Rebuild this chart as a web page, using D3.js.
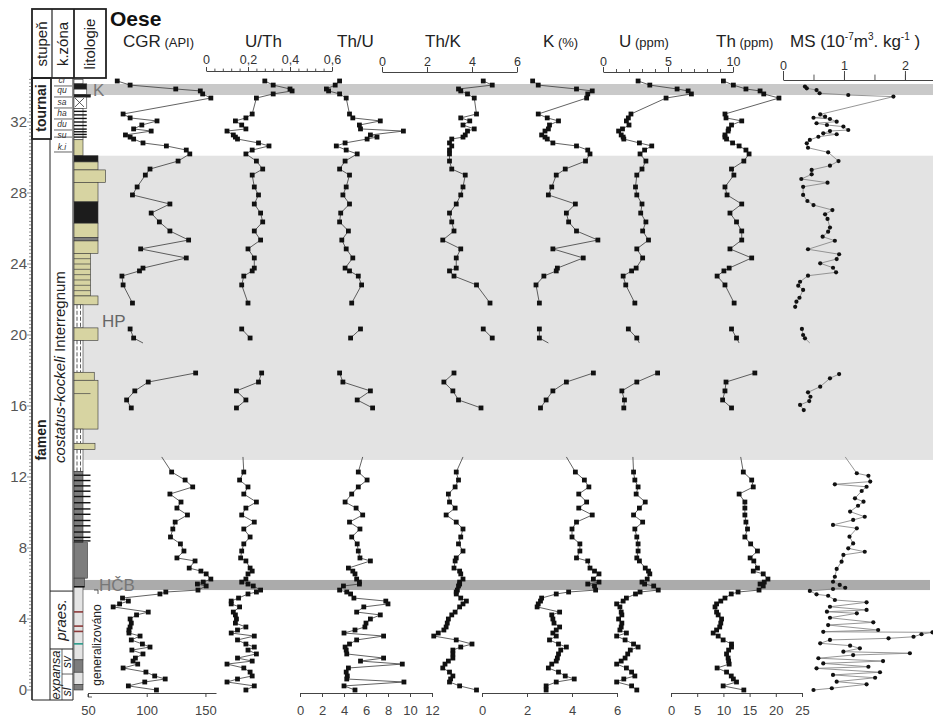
<!DOCTYPE html>
<html><head><meta charset="utf-8">
<script src="https://cdn.jsdelivr.net/npm/d3@7"></script>
<style>body{margin:0;background:#fff} text{font-family:"Liberation Sans",Arial,sans-serif}</style>
</head><body><svg id="c" width="933" height="720"></svg>
<script>
// ---------- DATA ----------
const depthA = [34.31,34.08,33.86,33.75,33.58,33.35,32.45,32.23,32.06,31.83,31.61,31.49,31.27,31.15,31.04,30.82,30.65,30.42,30.20,29.80,29.35,29.01,28.34,27.89,27.38,26.87,26.37,25.86,25.35,24.85,24.34,23.77,23.61,23.32,22.82,21.80];
const depthHP = [20.34,19.83];
const depthC = [17.86,17.35,16.85,16.34,15.89];
const depthLow = [12.28,11.83,11.44,11.04,10.59,10.25,9.86,9.46,9.07,8.62,8.23,7.83,7.44,7.27,6.87,6.70,6.54,6.25,6.08,5.97,5.86,5.63,5.52,5.41,5.18,5.01,4.85,4.68,4.39,4.23,4.00,3.77,3.55,3.38,3.21,3.04,2.82,2.59,2.42,2.25,2.03,1.80,1.63,1.46,1.24,1.01,0.79,0.62,0.45,0.23,0.00];
const stubLowDepth = 13.13, stubHPDepth = 19.55;

const cgrA = [75,86,125,146,148,155,80,86,109,96,89,104,82,86,89,97,117,134,137,127,103,99,92,88,120,104,111,120,136,95,134,97,94,79,80,88];
const cgrHP = [86,89];
const cgrC = [142,101.5,90,83,87];
const cgrLow = [121.5,133,139.5,120,129.5,126,135,124.5,122.5,120.5,129,132,126,141.5,136.5,146.5,151,155,148.5,143.5,151,144,116.5,111.5,79.5,84.5,77,71.5,101.5,91.5,86,87,86,85,85,94.5,87,96.5,103,87.5,97,90.5,88.5,92.5,80,99.5,107,116,98.5,84.5,108.5];

const uthA = [0.28,0.32,0.40,0.41,0.32,0.24,0.22,0.19,0.14,0.17,0.19,0.10,0.13,0.14,0.15,0.25,0.30,0.22,0.19,0.24,0.27,0.22,0.23,0.25,0.23,0.26,0.27,0.23,0.26,0.20,0.23,0.23,0.22,0.18,0.17,0.20];
const uthHP = [0.17,0.21];
const uthC = [0.265,0.25,0.145,0.19,0.145];
const uthLow = [0.18,0.16,0.2,0.18,0.24,0.19,0.17,0.23,0.18,0.21,0.18,0.17,0.165,0.19,0.21,0.22,0.2,0.19,0.17,0.2,0.225,0.26,0.24,0.2,0.155,0.12,0.12,0.16,0.13,0.14,0.145,0.14,0.19,0.15,0.12,0.23,0.15,0.19,0.23,0.2,0.24,0.15,0.22,0.1,0.18,0.21,0.22,0.15,0.1,0.23,0.19];

const thuA = [3.6,3.2,2.4,2.6,3.6,4.2,4.5,4.8,7.3,5.4,5.5,9.4,6.4,7.0,6.1,4.1,3.3,4.2,5.2,4.1,3.6,4.5,4.2,3.9,4.5,3.7,3.6,4.4,3.8,4.2,4.8,4.1,4.5,5.3,5.6,4.7];
const thuHP = [5.5,4.6];
const thuC = [3.6,3.9,6.4,5.2,6.6];
const thuLow = [5.3,6.1,5.3,4.7,4.1,5.1,5.7,4.5,5.45,4.7,5.2,5.3,5.45,6.4,4.4,4.8,5.0,5.15,5.4,5.4,3.95,3.6,4.25,4.6,4.9,7.8,8.0,5.8,5.15,7.3,6.4,6.0,5.9,5.0,4.0,7.6,5.15,4.5,4.1,4.2,4.25,7.6,5.5,9.3,4.4,4.2,4.3,4.25,9.45,4.0,5.0];

const thkA = [4.5,4.9,3.4,3.5,3.8,4.1,4.2,3.5,3.9,3.6,4.1,3.8,3.7,3.6,3.1,3.0,3.1,3.0,3.0,3.0,3.1,3.7,3.6,3.5,3.3,3.0,3.1,3.2,2.7,3.5,3.3,3.3,3.0,3.2,4.2,4.8];
const thkHP = [4.5,4.9];
const thkC = [3.2,2.75,3.15,3.4,4.4];
const thkLow = [3.3,3.4,3.25,2.95,3.0,3.25,2.85,3.3,3.6,3.5,3.4,3.6,3.3,3.25,3.2,3.45,3.5,3.6,3.45,3.45,3.4,3.35,3.3,3.3,3.5,3.75,3.6,3.45,3.25,3.1,2.95,2.9,2.85,2.75,2.5,2.3,3.3,4.0,3.5,3.15,3.15,3.15,2.95,2.8,2.7,3.0,3.15,3.05,3.0,3.45,4.2];

const kA = [2.25,2.5,4.2,4.9,4.7,4.65,2.5,2.9,3.4,3.0,2.95,2.8,2.65,2.8,2.9,3.15,4.2,4.7,4.8,4.6,3.7,3.3,3.1,2.95,4.15,3.75,3.85,4.2,5.15,3.15,4.5,3.35,3.3,2.75,2.4,2.55];
const kHP = [2.55,2.55];
const kC = [4.95,3.75,3.15,2.85,2.6];
const kLow = [4.15,4.55,4.75,4.3,4.65,4.3,4.9,4.2,4.0,4.0,4.35,4.35,4.2,4.7,4.8,5.0,5.2,4.95,5.2,4.7,5.0,5.05,3.85,3.3,2.65,2.6,2.5,2.45,3.45,3.1,3.15,3.2,3.45,3.3,3.15,3.3,3.0,3.4,3.75,3.5,3.4,3.35,3.3,3.1,2.95,3.4,3.7,4.1,3.3,2.85,2.85];

const uA = [2.7,3.6,5.7,6.55,6.8,4.85,2.15,1.95,1.8,2.0,1.5,1.2,1.4,1.55,1.6,2.8,3.75,3.2,2.85,3.3,3.0,2.6,2.5,2.6,3.0,2.9,3.3,3.05,3.5,2.6,3.05,2.55,2.2,1.55,1.75,2.45];
const uHP = [1.95,2.6];
const uC = [4.2,2.6,1.45,1.65,1.6];
const uLow = [2.35,2.45,2.7,2.55,3.25,2.8,2.35,3.05,2.45,2.6,2.7,2.7,2.6,2.8,3.25,3.5,3.6,3.4,3.0,3.2,3.9,4.25,2.85,2.5,1.8,1.55,1.05,1.3,1.4,1.45,1.2,1.45,1.4,1.3,1.8,1.05,1.7,2.35,2.7,2.1,1.9,1.7,1.4,1.05,1.8,2.2,2.45,1.6,1.05,2.2,2.6];

const thA = [10.0,11.9,14.3,17.0,17.7,20.6,10.3,10.5,13.5,11.55,11.0,10.9,10.3,10.3,10.6,11.75,13.0,14.3,14.9,13.9,11.55,12.0,10.3,10.7,13.5,11.25,12.5,13.5,13.5,11.25,15.4,11.1,10.1,8.8,10.3,12.05];
const thHP = [11.55,12.5];
const thC = [16.0,10.5,10.3,9.85,11.55];
const thLow = [13.8,15.4,15.7,13.0,14.1,14.1,14.1,14.3,14.6,14.1,15.2,16.5,15.1,15.8,16.5,15.7,17.6,18.5,17.8,17.0,17.6,16.8,12.8,11.5,10.3,9.5,8.7,8.4,8.7,9.0,9.65,9.5,9.3,8.7,8.05,9.0,9.95,11.55,11.55,11.0,10.6,10.9,11.0,11.1,8.8,10.6,11.5,11.9,12.5,9.95,13.9];

const msDepthA = [34.0,33.9,33.8,33.62,33.52,33.43,32.43,32.3,32.24,32.17,32.02,31.93,31.83,31.74,31.55,31.49,31.36,31.31,31.17,30.99,30.8,30.55,30.29,29.8,29.54,29.3,29.05,28.79,28.58,28.35,27.89,27.55,27.32,27.04,26.8,26.54,26.05,25.82,25.54,25.31,24.83,24.55,24.28,24.04,23.79,23.53,23.34,23.0,22.78,22.54,22.1,21.88,21.59];
const msA = [0.36,0.39,0.55,0.6,1.07,1.81,0.61,0.69,0.5,0.77,0.88,0.55,0.72,0.99,1.07,0.77,0.66,0.88,0.58,0.44,0.39,0.41,0.74,0.91,0.77,0.47,0.47,0.3,0.73,0.33,0.33,0.4,0.5,0.81,0.69,0.73,0.77,0.74,0.65,0.85,0.41,0.92,0.88,0.61,0.82,0.87,0.41,0.28,0.25,0.33,0.27,0.22,0.2];
const msDepthHP = [20.34,20.0,19.81];
const msHP = [0.31,0.33,0.36];
const msDepthC = [17.8,17.56,17.09,16.77,16.52,16.28,16.06,15.77];
const msC = [0.92,0.77,0.61,0.41,0.45,0.43,0.28,0.34];
const msDepthLow = [12.21,12.07,11.74,11.59,11.45,11.21,10.8,10.61,10.38,10.05,9.76,9.58,9.3,9.11,8.64,8.26,7.98,7.79,7.61,7.23,6.82,6.38,6.1,5.92,5.76,5.69,5.58,5.39,5.31,5.07,4.94,4.69,4.51,4.41,4.32,4.07,3.81,3.66,3.38,3.28,3.25,3.14,3.0,2.91,2.82,2.63,2.5,2.35,2.16,2.07,1.97,1.79,1.63,1.5,1.31,1.22,1.0,0.85,0.69,0.47,0.32,0.1,0.0];
const msLow = [1.21,1.4,1.43,0.85,1.37,1.29,1.18,1.32,1.23,1.1,1.34,1.15,0.82,1.21,1.09,1.15,1.07,1.34,0.99,0.96,0.88,0.85,0.82,0.93,1.02,0.82,0.44,0.55,0.74,0.85,1.37,0.77,1.37,0.72,1.21,0.77,1.48,0.74,1.56,0.66,2.45,2.27,2.14,1.73,0.77,0.61,1.1,1.26,0.99,2.08,1.15,0.58,1.64,0.66,1.4,0.55,1.59,0.82,1.51,0.88,1.37,0.8,0.5];

// stub line ends (line without marker) [lower-section start, HP end]
const stubLow = {cgr:113, uth:0.176, thu:5.7, thk:3.6, k:3.75, u:2.3, th:13.3, ms:1.02};
const stubHP = {cgr:97, uth:null, thu:null, thk:null, k:2.95, u:2.8, th:13.0, ms:0.44};

// shaded intervals (depth, m)
const greyZone = [12.96, 30.1];
const bandK = [33.52, 34.14];
const bandHCB = [5.63, 6.2];

// depth axis
const depthLabels = [0,4,8,12,16,20,24,28,32];

// lithology: [top, base, width class, type]
const litho = [
 [34.4,34.15,1,"w"],[34.15,33.85,1.5,"b"],[33.85,33.55,1.5,"w"],[33.55,33.4,2,"b"],
 [33.4,32.75,1.5,"w"],[32.75,31.0,1,"w"],[31.0,30.1,1,"k"],[30.1,29.75,3,"b"],
 [29.75,29.3,3,"k"],[29.3,28.6,4,"k"],[28.6,27.5,3,"k"],[27.5,26.3,3,"b"],
 [26.3,25.5,3,"k"],[25.5,25.3,3,"d"],[25.3,24.6,3,"k"],[24.6,22.2,2,"k"],
 [22.2,21.7,3,"k"],[21.7,20.4,1,"s"],[20.4,19.7,3,"k"],[19.7,17.9,1,"s"],
 [17.9,17.45,2.5,"k"],[17.45,14.7,3,"k"],[14.7,13.9,1,"s"],[13.9,13.55,2.6,"k"],
 [13.55,12.3,1,"s"],[12.3,8.3,1,"d"],[8.3,6.3,1.6,"d"],[6.3,5.8,1.2,"d"],
 [5.8,1.7,1,"l"],[1.7,1.0,1,"d"],[1.0,0.3,1,"l"],[0.3,0.0,1,"d"]
];
const lithoBlackLines = [32.6,32.4,32.2,32.0,31.8,31.6,31.45,31.3,31.15,12.1,11.8,11.5,11.2,10.9,10.55,10.2,9.9,9.55,9.25,8.9,8.6,8.4,5.82];
const lithoBlackLineW = [1.5,1.5,1.5,1.5,1.5,1.5,1.5,1.5,1.5,2,2,2,2,2,2,2,2,2,2,2,2,2,1.2];
const lithoLayerLines = [24.3,24.0,23.7,23.4,23.1,22.8,22.5,16.7];
const lithoColourLines = [[4.4,"#8b3a3a"],[3.6,"#8b3a3a"],[3.3,"#8b3a3a"],[2.6,"#2a9a8a"]];

// zones
const kZoneTop = [["cr",34.42],["qu",33.85],["sa",33.15],["ha",32.55],["du",31.92],["su",31.3],["k.i",30.6]];
const kZoneLines = [34.03,33.41,32.79,32.17,31.55,31.15,30.31];

// ---------- DRAW ----------
const svg = d3.select("#c");
const yS = d3.scaleLinear().domain([0,34.4]).range([690,79.4]);
const fmtC = d3.formatLocale({decimal:",",thousands:" ",grouping:[3],currency:["",""]}).format("~g");

const xCGR = d3.scaleLinear().domain([50,150]).range([88,205]);
const xUTh = d3.scaleLinear().domain([0,0.6]).range([206,332]);
const xThU = d3.scaleLinear().domain([0,12]).range([300,432]);
const xThK = d3.scaleLinear().domain([0,6]).range([382,517]);
const xK   = d3.scaleLinear().domain([0,6]).range([482,617]);
const xU   = d3.scaleLinear().domain([0,10]).range([603,733]);
const xTh  = d3.scaleLinear().domain([0,25]).range([671,802]);
const xMS  = d3.scaleLinear().domain([0,2]).range([783,905]);

// background zones
svg.append("rect").attr("x",74).attr("width",933-74)
  .attr("y",yS(greyZone[1])).attr("height",yS(greyZone[0])-yS(greyZone[1])).attr("fill","#e3e3e3");
svg.append("rect").attr("x",80).attr("width",933-80)
  .attr("y",yS(bandK[1])).attr("height",yS(bandK[0])-yS(bandK[1])).attr("fill","#c9c9c9");
svg.append("rect").attr("x",80).attr("width",930-80)
  .attr("y",yS(bandHCB[1])).attr("height",yS(bandHCB[0])-yS(bandHCB[1])).attr("fill","#ababab");

// lithology
const wS = d3.scaleLinear().domain([0,4]).range([1.5,31.5]);
const fills = {w:"#ffffff",b:"#1c1c1c",k:"#d7d4a2",d:"#7d7d7d",l:"#e4e4e4",s:"#ffffff"};
const lg = svg.append("g");
litho.forEach(([t,b,w,c])=>{
  lg.append("rect").attr("x",74).attr("y",yS(t)).attr("width",wS(w)).attr("height",yS(b)-yS(t))
    .attr("fill",fills[c]).attr("stroke","#333").attr("stroke-width",0.6);
  if(c==="s"){
    [77,80.5].forEach(xx=>lg.append("line").attr("x1",xx).attr("x2",xx).attr("y1",yS(t)).attr("y2",yS(b))
      .attr("stroke","#333").attr("stroke-width",0.8).attr("stroke-dasharray","4,2"));
  }
});
lithoBlackLines.forEach((d,i)=>lg.append("line").attr("x1",74).attr("x2",74+wS(lithoBlackLineW[i]))
  .attr("y1",yS(d)).attr("y2",yS(d)).attr("stroke","#111").attr("stroke-width",1.4));
lithoLayerLines.forEach(d=>lg.append("line").attr("x1",74).attr("x2",74+wS(2)).attr("y1",yS(d)).attr("y2",yS(d))
  .attr("stroke","#444").attr("stroke-width",0.7));
lithoColourLines.forEach(([d,c])=>lg.append("line").attr("x1",74).attr("x2",74+wS(1)).attr("y1",yS(d)).attr("y2",yS(d))
  .attr("stroke",c).attr("stroke-width",1.6));
lg.append("path").attr("d",`M75,${yS(33.35)}L84,${yS(32.85)}M84,${yS(33.35)}L75,${yS(32.85)}`).attr("stroke","#333").attr("stroke-width",0.8);

// columns frame
const fr = svg.append("g").attr("stroke","#222").attr("fill","none");
fr.append("rect").attr("x",32).attr("y",9).attr("width",74).attr("height",69).attr("stroke-width",1.8);
fr.append("line").attr("x1",52).attr("x2",52).attr("y1",9).attr("y2",78).attr("stroke-width",1.2);
fr.append("line").attr("x1",74).attr("x2",74).attr("y1",9).attr("y2",78).attr("stroke-width",1.8);
fr.append("line").attr("x1",32).attr("x2",32).attr("y1",78).attr("y2",700).attr("stroke-width",1.6);
fr.append("line").attr("x1",50).attr("x2",50).attr("y1",139).attr("y2",700).attr("stroke-width",1);
fr.append("line").attr("x1",73).attr("x2",73).attr("y1",78).attr("y2",700).attr("stroke-width",1);
fr.append("line").attr("x1",32).attr("x2",73).attr("y1",700).attr("y2",700).attr("stroke-width",1);
fr.append("rect").attr("x",32).attr("y",78).attr("width",19).attr("height",61).attr("stroke-width",1.8);
fr.append("line").attr("x1",50).attr("x2",73).attr("y1",yS(bandHCB[0])+1).attr("y2",yS(bandHCB[0])+1).attr("stroke-width",1);
fr.append("line").attr("x1",50).attr("x2",73).attr("y1",yS(2.31)).attr("y2",yS(2.31)).attr("stroke-width",1);
fr.append("line").attr("x1",62).attr("x2",62).attr("y1",yS(2.31)).attr("y2",700).attr("stroke-width",0.7);
fr.append("line").attr("x1",62).attr("x2",73).attr("y1",yS(0.9)).attr("y2",yS(0.9)).attr("stroke-width",0.7);
kZoneLines.forEach(d=>fr.append("line").attr("x1",54).attr("x2",72).attr("y1",yS(d)).attr("y2",yS(d)).attr("stroke-width",0.7));

// header texts
function rot(x,y,txt,size,opt={}){
  const t = svg.append("text").attr("transform",`translate(${x},${y}) rotate(-90)`)
    .attr("text-anchor","middle").attr("font-size",size).attr("fill",opt.fill||"#222");
  if(opt.bold) t.attr("font-weight","bold");
  if(opt.italic) t.attr("font-style","italic");
  if(typeof txt==="string") t.text(txt); else txt.forEach(([s,st])=>t.append("tspan").attr("font-style",st).text(s));
  return t;
}
rot(47,44,"stupeň",15);
rot(68,44,"k.zóna",15);
rot(95,44,"litologie",15);
rot(46,108,"tournai",14,{bold:true});
rot(46,440,"famen",14,{bold:true});
rot(65,367,[["costatus-kockeli","italic"],[" Interregnum","normal"]],15);
rot(66,620,"praes.",15,{italic:true});
rot(60,675,"expansa",13,{italic:true});
rot(71,662,"sv",12,{italic:true});
rot(71,692,"sl",12,{italic:true});
rot(101,645,"generalizováno",12);
kZoneTop.forEach(([s,d])=>svg.append("text").attr("x",62).attr("y",yS(d)+3.5).attr("text-anchor","middle")
  .attr("font-size",8.5).attr("font-style","italic").attr("fill","#333").text(s));
svg.append("path").attr("d","M94,590L98,590L98,594M88,694L88,697L92,697").attr("fill","none").attr("stroke","#333").attr("stroke-width",0.8);

// depth axis
const dTicks = d3.range(0,34.41,0.2);
svg.append("g").selectAll("line").data(dTicks).join("line")
  .attr("x1",d=>Math.abs(d/4-Math.round(d/4))<0.01?27:29).attr("x2",32)
  .attr("y1",d=>yS(d)).attr("y2",d=>yS(d)).attr("stroke","#444").attr("stroke-width",0.6);
svg.append("g").selectAll("text").data(depthLabels).join("text")
  .attr("x",27).attr("y",d=>yS(d)+5).attr("text-anchor","end").attr("font-size",15).attr("fill","#555").text(d=>d);

// band labels
svg.append("text").attr("x",93).attr("y",yS(33.83)+6).attr("font-size",17).attr("fill","#777").text("K");
svg.append("text").attr("x",102).attr("y",yS(20.8)+6).attr("font-size",17).attr("fill","#666").text("HP");
svg.append("text").attr("x",99).attr("y",yS(5.92)+6).attr("font-size",17).attr("fill","#777").text("HČB");

// titles
svg.append("text").attr("x",110).attr("y",26).attr("font-size",21).attr("font-weight","bold").attr("fill","#111").text("Oese");
function title(x,main,sub){
  const t = svg.append("text").attr("x",x).attr("y",47).attr("font-size",17).attr("fill","#222");
  t.append("tspan").text(main);
  if(sub) t.append("tspan").attr("font-size",13).text(" "+sub);
}
title(123,"CGR","(API)");
title(245,"U/Th");
title(337,"Th/U");
title(425,"Th/K");
title(543,"K","(%)");
title(619,"U","(ppm)");
title(716,"Th","(ppm)");
const ms = svg.append("text").attr("x",790).attr("y",47).attr("font-size",17).attr("fill","#222");
ms.append("tspan").text("MS (10");
ms.append("tspan").attr("font-size",10).attr("dy",-7).text("-7");
ms.append("tspan").attr("dy",7).text("m");
ms.append("tspan").attr("font-size",10).attr("dy",-7).text("3");
ms.append("tspan").attr("dy",7).text(". kg");
ms.append("tspan").attr("font-size",10).attr("dy",-7).text("-1");
ms.append("tspan").attr("dy",7).text(" )");

// axes
function styleAxis(g, labY){
  g.select(".domain").attr("stroke","#444").attr("stroke-width",1);
  g.selectAll(".tick line").attr("stroke","#444");
  g.selectAll("text").attr("font-size",12.5).attr("fill","#333").attr("font-family","Liberation Sans, Arial, sans-serif")
    .attr("y",labY).attr("dy",0);
}
function topAxis(scale, yPos, major, minor, tick, labY, fmt){
  if(minor){
    svg.append("g").attr("transform",`translate(0,${yPos})`)
      .call(d3.axisTop(scale).tickValues(minor).tickSize(tick*0.6).tickSizeOuter(0).tickFormat(""))
      .call(g=>{g.select(".domain").remove(); g.selectAll(".tick line").attr("stroke","#555");});
  }
  const g = svg.append("g").attr("transform",`translate(0,${yPos})`)
    .call(d3.axisTop(scale).tickValues(major).tickSize(tick).tickSizeOuter(0).tickFormat(fmt||(d=>d)));
  styleAxis(g,labY);
}
function botAxis(scale, major, labY){
  const g = svg.append("g").attr("transform",`translate(0,693)`)
    .call(d3.axisBottom(scale).tickValues(major).tickSize(4).tickSizeOuter(0).tickFormat(d=>d));
  styleAxis(g,labY);
  g.selectAll("text").attr("font-size",13).attr("fill","#444");
}
topAxis(xUTh.copy().domain([0,0.6]), 71, [0,0.2,0.4,0.6], d3.range(0,0.601,0.04), 4, -7, fmtC);
topAxis(xThK, 72, [0,2,4,6], null, 5, -6);
topAxis(xU, 72, [0,5,10], d3.range(0,10.01,1), 5, -6);
topAxis(xMS.copy().domain([0,2.46]).range([783,933]), 80, [0,1,2], d3.range(0,2.51,0.5), 9, -10);
botAxis(xCGR.copy().domain([50,159]).range([88,216]), [50,100,150], 22);
botAxis(xThU, [0,2,4,6,8,10,12], 22);
botAxis(xK, [0,2,4,6], 22);
botAxis(xTh, [0,5,10,15,20,25], 22);

// curves
function drawSeries(x, segs, sLow, sHP, opt={}){
  const g = svg.append("g");
  const line = d3.line().x(p=>x(p[1])).y(p=>yS(p[0]));
  const lc = opt.lineColor||"#3a3a3a";
  segs.forEach(([ds,vs],i)=>{
    let pts = ds.map((d,j)=>[d,vs[j]]);
    let path = pts.slice();
    if(i===3 && sLow!=null) path = [[stubLowDepth,sLow]].concat(path);
    if(i===1 && sHP!=null) path = path.concat([[stubHPDepth,sHP]]);
    g.append("path").attr("d",line(path)).attr("fill","none").attr("stroke",lc).attr("stroke-width",opt.lw||0.8);
    if(opt.round){
      g.selectAll(null).data(pts).join("circle").attr("cx",p=>x(p[1])).attr("cy",p=>yS(p[0])).attr("r",2.1).attr("fill","#111");
    } else {
      g.selectAll(null).data(pts).join("rect").attr("x",p=>x(p[1])-2.4).attr("y",p=>yS(p[0])-2.4)
        .attr("width",4.8).attr("height",4.8).attr("fill","#111");
    }
  });
}
drawSeries(xCGR, [[depthA,cgrA],[depthHP,cgrHP],[depthC,cgrC],[depthLow,cgrLow]], stubLow.cgr, stubHP.cgr);
drawSeries(xUTh, [[depthA,uthA],[depthHP,uthHP],[depthC,uthC],[depthLow,uthLow]], stubLow.uth, stubHP.uth);
drawSeries(xThU, [[depthA,thuA],[depthHP,thuHP],[depthC,thuC],[depthLow,thuLow]], stubLow.thu, stubHP.thu);
drawSeries(xThK, [[depthA,thkA],[depthHP,thkHP],[depthC,thkC],[depthLow,thkLow]], stubLow.thk, stubHP.thk);
drawSeries(xK, [[depthA,kA],[depthHP,kHP],[depthC,kC],[depthLow,kLow]], stubLow.k, stubHP.k);
drawSeries(xU, [[depthA,uA],[depthHP,uHP],[depthC,uC],[depthLow,uLow]], stubLow.u, stubHP.u);
drawSeries(xTh, [[depthA,thA],[depthHP,thHP],[depthC,thC],[depthLow,thLow]], stubLow.th, stubHP.th);
drawSeries(xMS, [[msDepthA,msA],[msDepthHP,msHP],[msDepthC,msC],[msDepthLow,msLow]], stubLow.ms, stubHP.ms, {round:true, lineColor:"#8a8a8a", lw:0.9});
</script></body></html>
